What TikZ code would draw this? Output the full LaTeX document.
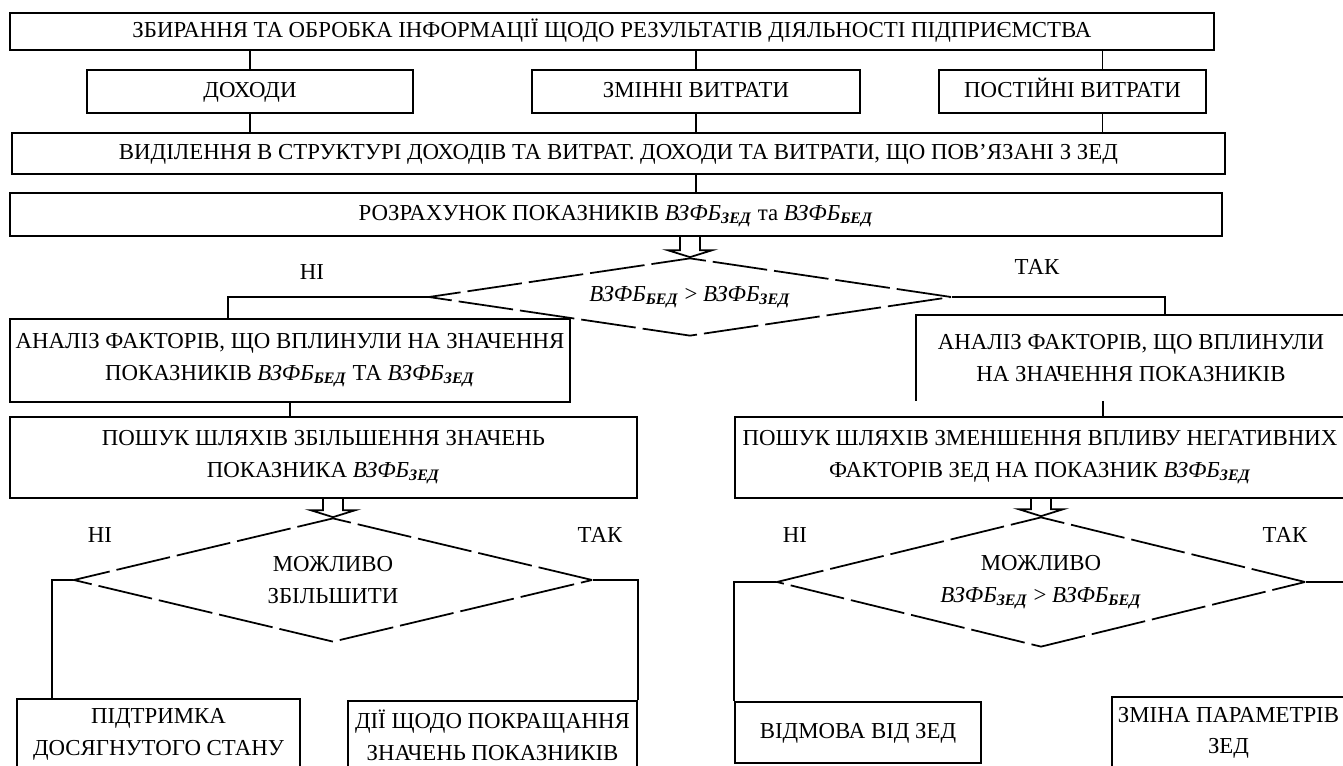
\documentclass[tikz,border=0pt]{standalone}
\usepackage{fontspec}
\setmainfont{Liberation Serif}
\usetikzlibrary{shapes.geometric}
\newcommand{\vzfb}[1]{\textit{ВЗФБ}\textsubscript{\textbf{\textit{#1}}}}
\newcommand{\blockarrow}[2]{\draw ([xshift=-0.2cm]#1) -- ([xshift=-0.2cm,yshift=0.14cm]#2) -- ([xshift=-0.45cm,yshift=0.14cm]#2) -- (#2) -- ([xshift=0.45cm,yshift=0.14cm]#2) -- ([xshift=0.2cm,yshift=0.14cm]#2) -- ([xshift=0.2cm]#1);}
\begin{document}
\begin{tikzpicture}[x=0.02cm, y=-0.02cm, line width=1pt, font=\fontsize{13}{18}\selectfont,
  box/.style={draw, rectangle, inner sep=0pt, align=center},
  onebox/.style={box, text height=0.68em, text depth=0pt},
  dia/.style={draw, diamond, inner sep=0pt, align=center, dash pattern=on 1.1cm off 0.14cm},
  lbl/.style={inner sep=0pt}]
  \useasboundingbox (0,0) rectangle (1343,765);
  \clip (0,0) rectangle (1343,765);
  \node[onebox, minimum width=24.08cm, minimum height=0.74cm] (top) at (612,31.5) {ЗБИРАННЯ ТА ОБРОБКА ІНФОРМАЦІЇ ЩОДО РЕЗУЛЬТАТІВ ДІЯЛЬНОСТІ ПІДПРИЄМСТВА};
  \node[onebox, minimum width=6.52cm, minimum height=0.86cm] (income) at (250,91.5) {ДОХОДИ};
  \node[onebox, minimum width=6.56cm, minimum height=0.86cm] (varcost) at (696,91.5) {ЗМІННІ ВИТРАТИ};
  \node[onebox, minimum width=5.34cm, minimum height=0.86cm] (fixcost) at (1072.5,91.5) {ПОСТІЙНІ ВИТРАТИ};
  \node[onebox, minimum width=24.26cm, minimum height=0.82cm] (split) at (618.5,153.5) {ВИДІЛЕННЯ В СТРУКТУРІ ДОХОДІВ ТА ВИТРАТ. ДОХОДИ ТА ВИТРАТИ, ЩО ПОВ’ЯЗАНІ З ЗЕД};
  \node[onebox, minimum width=24.24cm, minimum height=0.86cm] (calc) at (616,214.5) {РОЗРАХУНОК ПОКАЗНИКІВ \vzfb{ЗЕД} та \vzfb{БЕД}};
  \node[dia, aspect=6.7, minimum width=10.46cm, minimum height=1.56cm] (cmp) at (690,297) {\vzfb{БЕД} > \vzfb{ЗЕД}};
  \node[box, minimum width=11.2cm, minimum height=1.66cm] (anL) at (290,360.5) {АНАЛІЗ ФАКТОРІВ, ЩО ВПЛИНУЛИ НА ЗНАЧЕННЯ\\ПОКАЗНИКІВ \vzfb{БЕД} ТА \vzfb{ЗЕД}};
  \node[box, draw=none, minimum width=8.56cm, minimum height=1.68cm] (anR) at (1131,358) {АНАЛІЗ ФАКТОРІВ, ЩО ВПЛИНУЛИ\\НА ЗНАЧЕННЯ ПОКАЗНИКІВ};
  \node[box, minimum width=12.54cm, minimum height=1.62cm] (srchL) at (323.5,457.5) {ПОШУК ШЛЯХІВ ЗБІЛЬШЕННЯ ЗНАЧЕНЬ\\ПОКАЗНИКА \vzfb{ЗЕД}};
  \node[box, minimum width=12.2cm, minimum height=1.62cm] (srchR) at (1040,457.5) {ПОШУК ШЛЯХІВ ЗМЕНШЕННЯ ВПЛИВУ НЕГАТИВНИХ\\ФАКТОРІВ ЗЕД НА ПОКАЗНИК \vzfb{ЗЕД}};
  \node[dia, aspect=4.2, minimum width=10.38cm, minimum height=2.48cm] (canL) at (333,580) {МОЖЛИВО\\ЗБІЛЬШИТИ};
  \node[dia, aspect=4.07, minimum width=10.58cm, minimum height=2.6cm] (canR) at (1041,582) {МОЖЛИВО\\\vzfb{ЗЕД} > \vzfb{БЕД}};
  \node[box, minimum width=5.66cm, minimum height=1.42cm] (keep) at (158.5,734.5) {ПІДТРИМКА\\ДОСЯГНУТОГО СТАНУ};
  \node[box, minimum width=5.78cm, minimum height=1.38cm] (act) at (492.5,735.5) {ДІЇ ЩОДО ПОКРАЩАННЯ\\ЗНАЧЕНЬ ПОКАЗНИКІВ};
  \node[onebox, minimum width=4.92cm, minimum height=1.22cm] (refuse) at (858,732.5) {ВІДМОВА ВІД ЗЕД};
  \node[box, minimum width=4.66cm, minimum height=1.44cm] (change) at (1228.5,733) {ЗМІНА ПАРАМЕТРІВ\\ЗЕД};
  \node[lbl] (no1) at (312,272) {НІ};
  \node[lbl] (yes1) at (1037,267) {ТАК};
  \node[lbl] (no2) at (100,535) {НІ};
  \node[lbl] (yes2) at (600,535) {ТАК};
  \node[lbl] (no3) at (795,535) {НІ};
  \node[lbl] (yes3) at (1285,535) {ТАК};
  \coordinate (arr1) at (cmp.north |- calc.south);
  \coordinate (arr2) at (canL.north |- srchL.south);
  \coordinate (arr3) at (canR.north |- srchR.south);
  \draw (anR.south west) -- (anR.north west) -- (anR.north east);
  \draw (income.north) -- (income.north |- top.south);
  \draw (varcost.north) -- (varcost.north |- top.south);
  \draw ([xshift=0.6cm]fixcost.north) -- ([xshift=0.6cm]fixcost.north |- top.south);
  \draw (income.south) -- (income.south |- split.north);
  \draw (varcost.south) -- (varcost.south |- split.north);
  \draw ([xshift=0.6cm]fixcost.south) -- ([xshift=0.6cm]fixcost.south |- split.north);
  \draw (varcost.south |- split.south) -- (varcost.south |- calc.north);
  \blockarrow{arr1}{cmp.north}
  \draw (cmp.west) -| ([xshift=-1.24cm]anL.north);
  \draw (cmp.east) -| ([xshift=0.68cm]anR.north);
  \draw (anL.south) -- (anL.south |- srchL.north);
  \draw ([xshift=-0.56cm]anR.south) -- ([xshift=-0.56cm]anR.south |- srchR.north);
  \blockarrow{arr2}{canL.north}
  \blockarrow{arr3}{canR.north}
  \draw (canL.west) -| ([xshift=-2.13cm]keep.north);
  \draw (canL.east) -| (act.north east);
  \draw (canR.west) -| (refuse.north west);
  \draw (canR.east) -| (change.north east);
\end{tikzpicture}
\end{document}
